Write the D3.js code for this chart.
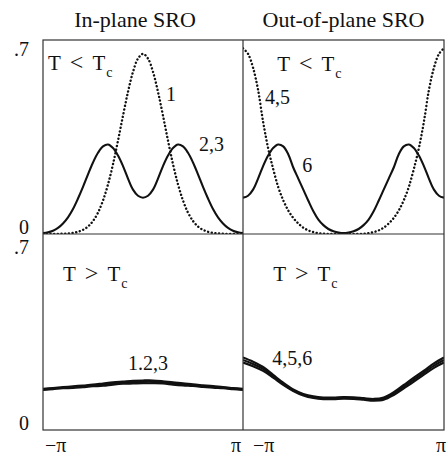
<!DOCTYPE html>
<html>
<head>
    <title>SRO</title>
    <script src="https://cdn.jsdelivr.net/npm/d3@7"></script>
    <style>
        body { margin: 0; background: #fff; }
        text { font-family: "Liberation Serif", "Times New Roman", serif; fill: #111; }
    </style>
</head>
<body>
    <svg width="448" height="457" id="mainsvg"></svg>
    <script>
        // sample positions along the axis, in units of pi
        const xsFine = [-1, -0.95, -0.9, -0.85, -0.8, -0.75, -0.7, -0.65, -0.6, -0.55, -0.5, -0.45, -0.4, -0.35, -0.3, -0.25, -0.2, -0.15, -0.1, -0.05,
            0, 0.05, 0.1, 0.15, 0.2, 0.25, 0.3, 0.35, 0.4, 0.45, 0.5, 0.55, 0.6, 0.65, 0.7, 0.75, 0.8, 0.85, 0.9, 0.95, 1];
        const xsCoarse = [-1, -0.9, -0.8, -0.7, -0.6, -0.5, -0.4, -0.3, -0.2, -0.1, 0, 0.1, 0.2, 0.3, 0.4, 0.5, 0.6, 0.7, 0.8, 0.9, 1];

        // T < Tc, in-plane
        const cold1 = [0, 0, 0, 0, 0.001, 0.002, 0.004, 0.008, 0.015, 0.027, 0.047, 0.077, 0.121, 0.179, 0.252, 0.337, 0.427, 0.513, 0.585, 0.633,
            0.650, 0.633, 0.585, 0.513, 0.427, 0.337, 0.252, 0.179, 0.121, 0.077, 0.047, 0.027, 0.015, 0.008, 0.004, 0.002, 0.001, 0, 0, 0, 0];
        const cold23 = [0.003, 0.006, 0.012, 0.022, 0.038, 0.060, 0.090, 0.128, 0.170, 0.215, 0.258, 0.293, 0.316, 0.323, 0.310, 0.283, 0.245, 0.200, 0.160, 0.138,
            0.131, 0.138, 0.160, 0.200, 0.245, 0.283, 0.310, 0.323, 0.316, 0.293, 0.258, 0.215, 0.170, 0.128, 0.090, 0.060, 0.038, 0.022, 0.012, 0.006, 0.003];
        // T < Tc, out-of-plane
        const cold45 = [0.670, 0.650, 0.600, 0.520, 0.405, 0.310, 0.235, 0.170, 0.122, 0.085, 0.058, 0.038, 0.023, 0.013, 0.007, 0.003, 0.001, 0, 0, 0,
            0, 0, 0, 0, 0.001, 0.003, 0.007, 0.013, 0.023, 0.038, 0.058, 0.085, 0.122, 0.170, 0.235, 0.310, 0.405, 0.520, 0.600, 0.650, 0.670];
        const cold6 = [0.131, 0.138, 0.160, 0.200, 0.245, 0.283, 0.310, 0.323, 0.316, 0.288, 0.240, 0.200, 0.160, 0.120, 0.082, 0.052, 0.032, 0.018, 0.010, 0.005,
            0.003, 0.005, 0.010, 0.018, 0.032, 0.052, 0.082, 0.120, 0.160, 0.200, 0.240, 0.288, 0.316, 0.323, 0.310, 0.283, 0.245, 0.200, 0.160, 0.138, 0.131];

        // T > Tc, in-plane (curves 1,2,3 nearly coincide)
        const hot1 = [0.147, 0.150, 0.153, 0.156, 0.159, 0.162, 0.166, 0.170, 0.173, 0.176, 0.177, 0.177, 0.174, 0.170, 0.167, 0.163, 0.160, 0.157, 0.153, 0.150, 0.147];
        const hot2 = [0.145, 0.148, 0.151, 0.153, 0.156, 0.159, 0.162, 0.166, 0.169, 0.171, 0.172, 0.172, 0.170, 0.166, 0.163, 0.160, 0.157, 0.154, 0.151, 0.148, 0.145];
        const hot3 = [0.143, 0.146, 0.149, 0.150, 0.153, 0.156, 0.158, 0.162, 0.165, 0.166, 0.167, 0.167, 0.166, 0.162, 0.159, 0.157, 0.154, 0.151, 0.149, 0.146, 0.143];
        // T > Tc, out-of-plane (curves 4,5,6)
        const hot4 = [0.259, 0.244, 0.225, 0.197, 0.169, 0.145, 0.129, 0.120, 0.116, 0.116, 0.118, 0.117, 0.114, 0.111, 0.116, 0.135, 0.161, 0.187, 0.212, 0.238, 0.259];
        const hot5 = [0.250, 0.236, 0.218, 0.192, 0.165, 0.142, 0.126, 0.117, 0.113, 0.113, 0.115, 0.114, 0.111, 0.108, 0.112, 0.130, 0.155, 0.180, 0.205, 0.230, 0.250];
        const hot6 = [0.241, 0.228, 0.211, 0.187, 0.161, 0.139, 0.123, 0.114, 0.110, 0.110, 0.112, 0.111, 0.108, 0.105, 0.108, 0.125, 0.149, 0.173, 0.198, 0.222, 0.241];

        const titles = ['In-plane SRO', 'Out-of-plane SRO'];
        const yTickLabels = [{ v: 0.7, t: '.7' }, { v: 0, t: '0' }];
        const xTickLabels = [{ v: -1, t: '\u2212\u03c0' }, { v: 1, t: '\u03c0' }];

        const svg = d3.select('svg');

        const frameL = 43, frameMid = 243, frameR = 444;
        const frameT = 40, frameMidY = 234, frameB = 430;

        const xL = d3.scaleLinear().domain([-1, 1]).range([frameL, frameMid]);
        const xR = d3.scaleLinear().domain([-1, 1]).range([frameMid, frameR]);
        const yT = d3.scaleLinear().domain([0, 0.7]).range([frameMidY, frameT]);
        const yB = d3.scaleLinear().domain([0, 0.7]).range([frameB, frameMidY]);

        const panels = [
            { id: 'tl', x: xL, y: yT, xs: xsFine, lines: [{ v: cold1, dot: true }, { v: cold23 }],
              state: '<', labels: [{ t: '1', x: 0.23, y: 0.48 }, { t: '2,3', x: 0.56, y: 0.30 }], sx: -0.95, sy: 0.592 },
            { id: 'tr', x: xR, y: yT, xs: xsFine, lines: [{ v: cold45, dot: true }, { v: cold6 }],
              state: '<', labels: [{ t: '4,5', x: -0.78, y: 0.469 }, { t: '6', x: -0.41, y: 0.224 }], sx: -0.66, sy: 0.588 },
            { id: 'bl', x: xL, y: yB, xs: xsCoarse, lines: [{ v: hot1 }, { v: hot2 }, { v: hot3 }],
              state: '>', labels: [{ t: '1.2,3', x: -0.15, y: 0.214 }], sx: -0.80, sy: 0.532 },
            { id: 'br', x: xR, y: yB, xs: xsCoarse, lines: [{ v: hot4 }, { v: hot5 }, { v: hot6 }],
              state: '>', labels: [{ t: '4,5,6', x: -0.71, y: 0.232 }], sx: -0.70, sy: 0.532 }
        ];

        const defs = svg.append('defs');

        panels.forEach(p => {
            const [x0, x1] = p.x.range();
            const [y0, y1] = p.y.range();
            defs.append('clipPath').attr('id', 'clip-' + p.id)
                .append('rect').attr('x', x0).attr('y', y1).attr('width', x1 - x0).attr('height', y0 - y1);

            const line = d3.line()
                .x((d, i) => p.x(p.xs[i]))
                .y(d => p.y(d))
                .curve(d3.curveCatmullRom.alpha(0.5));

            const g = svg.append('g').attr('clip-path', `url(#clip-${p.id})`);
            g.selectAll('path').data(p.lines).join('path')
                .attr('d', d => line(d.v))
                .attr('fill', 'none')
                .attr('stroke', '#111')
                .attr('stroke-width', d => d.dot ? 2.4 : 2.1)
                .attr('stroke-linecap', d => d.dot ? 'round' : 'butt')
                .attr('stroke-dasharray', d => d.dot ? '0.1,3.6' : null);

            // T < Tc / T > Tc
            const st = svg.append('text')
                .attr('x', p.x(p.sx)).attr('y', p.y(p.sy))
                .attr('font-size', 21);
            st.append('tspan').text('T');
            st.append('tspan').attr('dx', 9).attr('font-size', 24).text(p.state);
            st.append('tspan').attr('dx', 9).text('T');
            st.append('tspan').attr('dx', 1).attr('dy', 7).attr('font-size', 14).text('c');

            svg.selectAll(null).data(p.labels).join('text')
                .attr('x', d => p.x(d.x)).attr('y', d => p.y(d.y))
                .attr('font-size', 20)
                .text(d => d.t);
        });

        // frame
        svg.append('rect')
            .attr('x', frameL).attr('y', frameT)
            .attr('width', frameR - frameL).attr('height', frameB - frameT)
            .attr('fill', 'none').attr('stroke', '#333').attr('stroke-width', 1.2);
        svg.append('line').attr('x1', frameMid).attr('x2', frameMid).attr('y1', frameT).attr('y2', frameB)
            .attr('stroke', '#333').attr('stroke-width', 1.2);
        svg.append('line').attr('x1', frameL).attr('x2', frameR).attr('y1', frameMidY).attr('y2', frameMidY)
            .attr('stroke', '#333').attr('stroke-width', 1.2);

        // titles
        svg.selectAll('.title').data(titles).join('text')
            .attr('class', 'title')
            .attr('x', (d, i) => i === 0 ? (xL(-1) + xL(1)) / 2 - 8 : (xR(-1) + xR(1)) / 2)
            .attr('y', 27)
            .attr('text-anchor', 'middle')
            .attr('font-size', 22)
            .text(d => d);

        // y tick labels
        [yT, yB].forEach((ys, k) => {
            svg.selectAll(null).data(yTickLabels).join('text')
                .attr('x', 29)
                .attr('y', d => d.v > 0 ? ys(d.v) + (k === 0 ? 16 : 20) : ys(d.v))
                .attr('text-anchor', 'end')
                .attr('font-size', 20)
                .text(d => d.t);
        });

        // x tick labels
        [xL, xR].forEach((xs, k) => {
            svg.selectAll(null).data(xTickLabels).join('text')
                .attr('x', d => d.v < 0 ? xs(d.v) + (k === 0 ? 2 : 10) : xs(d.v) + (k === 0 ? -2 : 2))
                .attr('y', 452)
                .attr('text-anchor', d => d.v < 0 ? 'start' : 'end')
                .attr('font-size', 20)
                .text(d => d.t);
        });
    </script>
</body>
</html>
